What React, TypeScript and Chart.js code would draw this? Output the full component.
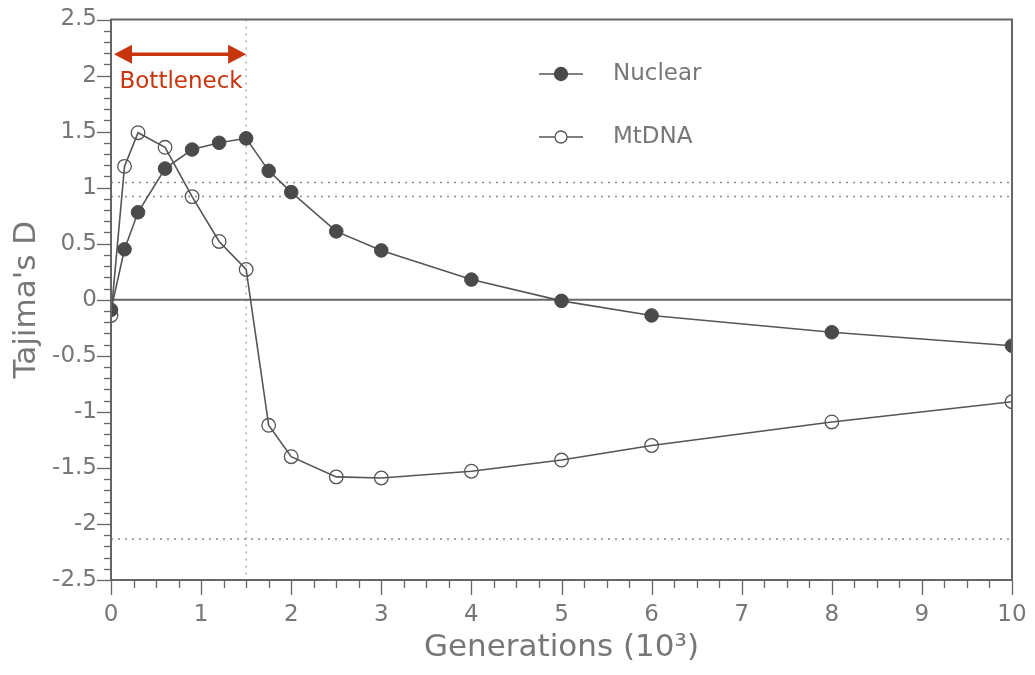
import React, { useEffect, useRef } from "react";
import { Chart, registerables } from "chart.js";

Chart.register(...registerables);

// ---- data ----
const generations = [0, 0.15, 0.3, 0.6, 0.9, 1.2, 1.5, 1.75, 2, 2.5, 3, 4, 5, 6, 8, 10];
const nuclearD = [-0.09, 0.45, 0.78, 1.17, 1.34, 1.4, 1.44, 1.15, 0.96, 0.61, 0.44, 0.18, -0.01, -0.14, -0.29, -0.41];
const mtdnaD = [-0.14, 1.19, 1.49, 1.36, 0.92, 0.52, 0.27, -1.12, -1.4, -1.58, -1.59, -1.53, -1.43, -1.3, -1.09, -0.91];

const seriesNames = ["Nuclear", "MtDNA"];
const yTickValues = [-2.5, -2, -1.5, -1, -0.5, 0, 0.5, 1, 1.5, 2, 2.5];
const xTickValues = [0, 1, 2, 3, 4, 5, 6, 7, 8, 9, 10];

// reference lines
const dottedHorizontal = [1.045, 0.92, -2.135];
const dottedVertical = [1.5];
const solidHorizontal = [0];

// bottleneck annotation
const bottleneckStart = 0;
const bottleneckEnd = 1.5;
const bottleneckArrowD = 2.19;
const bottleneckLabel = "Bottleneck";

const FONT = "'DejaVu Sans', 'Liberation Sans', Arial, sans-serif";
const INK = "#555555";
const TEXT = "#777777";
const RED = "#c8340c";

const zeroScalePadding = (s: any) => {
  s.paddingTop = 0;
  s.paddingBottom = 0;
  s.paddingLeft = 0;
  s.paddingRight = 0;
};

const decorPlugin = {
  id: "decor",
  beforeDatasetsDraw(chart: any) {
    const { ctx, chartArea: a, scales } = chart;
    const xs = scales.x;
    const ys = scales.y;
    ctx.save();
    ctx.strokeStyle = "#8a8a8a";
    ctx.lineWidth = 1.5;
    ctx.setLineDash([2, 5]);
    dottedHorizontal.forEach((v) => {
      const y = ys.getPixelForValue(v);
      ctx.beginPath();
      ctx.moveTo(a.left, y);
      ctx.lineTo(a.right, y);
      ctx.stroke();
    });
    ctx.lineWidth = 1;
    dottedVertical.forEach((v) => {
      const x = xs.getPixelForValue(v);
      ctx.beginPath();
      ctx.moveTo(x, a.top);
      ctx.lineTo(x, a.bottom);
      ctx.stroke();
    });
    ctx.setLineDash([]);
    ctx.strokeStyle = "#666666";
    ctx.lineWidth = 1.8;
    solidHorizontal.forEach((v) => {
      const y = ys.getPixelForValue(v);
      ctx.beginPath();
      ctx.moveTo(a.left, y);
      ctx.lineTo(a.right, y);
      ctx.stroke();
    });
    ctx.restore();
  },
  afterDatasetsDraw(chart: any) {
    const { ctx, chartArea: a, scales } = chart;
    const xs = scales.x;
    const ys = scales.y;
    ctx.save();
    ctx.strokeStyle = "#666666";
    ctx.lineWidth = 2;
    ctx.strokeRect(a.left, a.top, a.right - a.left, a.bottom - a.top);
    ctx.lineWidth = 1.3;
    for (let i = -25; i <= 25; i++) {
      const v = i / 10;
      const y = Math.round(ys.getPixelForValue(v)) + 0.5;
      const len = i % 5 === 0 ? 14 : 7;
      ctx.beginPath();
      ctx.moveTo(a.left - len, y);
      ctx.lineTo(a.left, y);
      ctx.stroke();
    }
    for (let i = 0; i <= 40; i++) {
      const v = i / 4;
      const x = Math.round(xs.getPixelForValue(v)) + 0.5;
      const len = i % 4 === 0 ? 15 : 8;
      ctx.beginPath();
      ctx.moveTo(x, a.bottom);
      ctx.lineTo(x, a.bottom + len);
      ctx.stroke();
    }
    ctx.restore();
  },
  afterDraw(chart: any) {
    const { ctx, scales } = chart;
    const xs = scales.x;
    const ys = scales.y;
    ctx.save();
    const x1 = xs.getPixelForValue(bottleneckStart) + 3;
    const x2 = xs.getPixelForValue(bottleneckEnd);
    const y = ys.getPixelForValue(bottleneckArrowD);
    const head = 18;
    const hw = 9.5;
    ctx.strokeStyle = RED;
    ctx.fillStyle = RED;
    ctx.lineWidth = 3.5;
    ctx.beginPath();
    ctx.moveTo(x1 + head - 2, y);
    ctx.lineTo(x2 - head + 2, y);
    ctx.stroke();
    ctx.beginPath();
    ctx.moveTo(x1, y);
    ctx.lineTo(x1 + head, y - hw);
    ctx.lineTo(x1 + head, y + hw);
    ctx.closePath();
    ctx.fill();
    ctx.beginPath();
    ctx.moveTo(x2, y);
    ctx.lineTo(x2 - head, y - hw);
    ctx.lineTo(x2 - head, y + hw);
    ctx.closePath();
    ctx.fill();
    ctx.font = `23px ${FONT}`;
    ctx.textAlign = "center";
    ctx.textBaseline = "middle";
    ctx.fillText(bottleneckLabel, (x1 + x2) / 2 + 1, y + 28);

    const lx1 = 539;
    const lx2 = 583;
    const rows = [74, 137];
    chart.data.datasets.forEach((ds: any, i: number) => {
      const ly = rows[i];
      ctx.strokeStyle = INK;
      ctx.lineWidth = 1.6;
      ctx.beginPath();
      ctx.moveTo(lx1, ly);
      ctx.lineTo(lx2, ly);
      ctx.stroke();
      ctx.beginPath();
      ctx.arc((lx1 + lx2) / 2, ly, i === 0 ? 6.5 : 6, 0, Math.PI * 2);
      ctx.fillStyle = i === 0 ? ds.pointBackgroundColor : "#ffffff";
      ctx.fill();
      ctx.lineWidth = 1.3;
      ctx.strokeStyle = ds.pointBorderColor;
      ctx.stroke();
      ctx.fillStyle = TEXT;
      ctx.font = `23px ${FONT}`;
      ctx.textAlign = "left";
      ctx.textBaseline = "middle";
      ctx.fillText(ds.label, 613, ly);
    });
    ctx.restore();
  },
};

export default function App() {
  const canvasRef = useRef<HTMLCanvasElement | null>(null);

  useEffect(() => {
    if (!canvasRef.current) return;
    const chart = new Chart(canvasRef.current, {
      type: "line",
      data: {
        datasets: [
          {
            label: seriesNames[0],
            data: generations.map((g, i) => ({ x: g, y: nuclearD[i] })),
            borderColor: INK,
            borderWidth: 1.6,
            pointRadius: 6.8,
            pointBackgroundColor: "#4a4a4a",
            pointBorderColor: "#4a4a4a",
            pointBorderWidth: 1,
            tension: 0,
            fill: false,
          },
          {
            label: seriesNames[1],
            data: generations.map((g, i) => ({ x: g, y: mtdnaD[i] })),
            borderColor: INK,
            borderWidth: 1.6,
            pointRadius: 6.8,
            pointBackgroundColor: "rgba(255,255,255,0)",
            pointBorderColor: INK,
            pointBorderWidth: 1.3,
            tension: 0,
            fill: false,
          },
        ],
      },
      options: {
        animation: false,
        responsive: false,
        devicePixelRatio: 1,
        layout: { padding: { top: 19.5, right: 23, bottom: 0, left: 0 } },
        plugins: { legend: { display: false }, tooltip: { enabled: false } },
        scales: {
          x: {
            type: "linear",
            min: 0,
            max: 10,
            afterFit: (s: any) => {
              s.height = 95;
              zeroScalePadding(s);
            },
            afterBuildTicks: (s: any) => {
              s.ticks = xTickValues.map((v) => ({ value: v }));
            },
            grid: { display: false, drawTicks: false },
            border: { display: false },
            ticks: {
              padding: 21,
              color: TEXT,
              font: { family: FONT, size: 23 },
              callback: (v: any) => String(Math.round(Number(v) * 10) / 10),
              maxRotation: 0,
              autoSkip: false,
            },
            title: {
              display: true,
              text: "Generations (10³)",
              color: TEXT,
              font: { family: FONT, size: 31 },
              padding: { top: 0, bottom: 8 },
            },
          },
          y: {
            type: "linear",
            min: -2.5,
            max: 2.5,
            afterFit: (s: any) => {
              s.width = 111;
              zeroScalePadding(s);
            },
            afterBuildTicks: (s: any) => {
              s.ticks = yTickValues.map((v) => ({ value: v }));
            },
            grid: { display: false, drawTicks: false },
            border: { display: false },
            ticks: {
              padding: 14,
              color: TEXT,
              font: { family: FONT, size: 23 },
              callback: (v: any) => String(Math.round(Number(v) * 10) / 10),
              autoSkip: false,
            },
            title: {
              display: true,
              text: "Tajima's D",
              color: TEXT,
              font: { family: FONT, size: 31 },
              padding: { top: 8, bottom: 0 },
            },
          },
        },
      },
      plugins: [decorPlugin],
    });
    return () => chart.destroy();
  }, []);

  return (
    <div style={{ position: "absolute", left: 0, top: 0, width: 1035, height: 675, background: "#ffffff" }}>
      <canvas ref={canvasRef} width={1035} height={675} style={{ width: 1035, height: 675, display: "block" }} />
    </div>
  );
}
